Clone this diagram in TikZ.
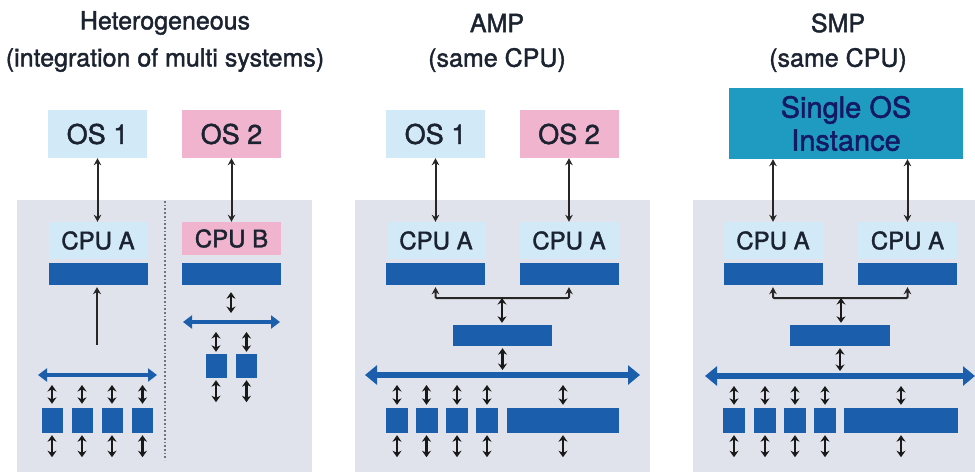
\documentclass[tikz,border=0pt]{standalone}
\usepackage{fontspec}
\setmainfont{TeX Gyre Heros}[FakeBold=1.6]
\usetikzlibrary{positioning,arrows.meta}

\definecolor{panelgrey}{HTML}{E0E3EB}
\definecolor{osblue}{HTML}{D2EAF8}
\definecolor{ospink}{HTML}{F0B4CE}
\definecolor{barblue}{HTML}{1A5EAC}
\definecolor{osteal}{HTML}{1F9BC2}
\definecolor{inkdark}{HTML}{1B2230}

\begin{document}
\begin{tikzpicture}[
    x=1pt, y=-1pt,
    title/.style={text=inkdark, font=\fontsize{25}{28}\selectfont},
    osbox/.style={%
      rectangle, fill=osblue, text=inkdark,
      minimum width=99pt, minimum height=48pt, inner sep=0pt,
      font=\fontsize{27}{30}\selectfont,
    },
    cpubox/.style={%
      rectangle, fill=osblue, text=inkdark,
      minimum width=99pt, minimum height=37pt, inner sep=0pt,
      font=\fontsize{24}{26}\selectfont,
    },
    bar/.style={rectangle, fill=barblue, minimum width=99pt, minimum height=22pt, inner sep=0pt},
    chip/.style={rectangle, fill=barblue, minimum width=21pt, minimum height=25pt, inner sep=0pt},
    link/.style={black!85, line width=2pt, {Stealth[length=7pt,width=7.5pt]}-{Stealth[length=7pt,width=7.5pt]}},
    io/.style={black!90, line width=2.6pt, {Stealth[length=6.5pt,width=9pt]}-{Stealth[length=6.5pt,width=9pt]}},
    bus/.style={barblue, line width=6.5pt, {Triangle[length=12pt,width=19pt]}-{Triangle[length=12pt,width=19pt]}},
    smallbus/.style={barblue, line width=4pt, {Triangle[length=9pt,width=13pt]}-{Triangle[length=9pt,width=13pt]}},
  ]
    \useasboundingbox (0,0) rectangle (975,472);

    % background panels
    \fill[panelgrey] (17,200) rectangle (312,472);
    \fill[panelgrey] (355,200) rectangle (650,472);
    \fill[panelgrey] (693,200) rectangle (975,472);
    \draw[black!55, dotted, line width=1.7pt] (165,201) -- (165,460);

    % headings
    \node [title] (hetT) at (165,23) {Heterogeneous};
    \node [title] (hetS) at (165,60) {(integration of multi systems)};
    \node [title] (ampT) at (497,23) {AMP};
    \node [title] (ampS) at (497,60) {(same CPU)};
    \node [title] (smpT) at (838,23) {SMP};
    \node [title] (smpS) at (838,60) {(same CPU)};

    % heterogeneous
    \node [osbox] (osH1) at (97.5,134) {OS 1};
    \node [osbox, fill=ospink] (osH2) at (231.5,134) {OS 2};
    \node [cpubox] (cpuH1) at (98,240.5) {CPU A};
    \node [cpubox, fill=ospink, minimum height=33pt] (cpuH2) at (231.5,238.5) {CPU B};
    \node [bar] (barH1) at (98,274) {};
    \node [bar] (barH2) at (231,274) {};
    \draw [link] (osH1.south) -- (osH1.south |- cpuH1.north);
    \draw [link] (osH2.south) -- (osH2.south |- cpuH2.north);

    \coordinate (upH) at (97,345);
    \draw [black!85, line width=2pt, -{Stealth[length=7pt,width=8pt]}, shorten >=2pt] (upH) -- (upH |- barH1.south);
    \coordinate (busHL) at (38,375);
    \coordinate (busHR) at (157,375);
    \draw [smallbus] (busHL) -- (busHR);
    \node [chip] (h1) at (52,420.5) {};
    \node [chip] (h2) at (82,420.5) {};
    \node [chip] (h3) at (112,420.5) {};
    \node [chip] (h4) at (142.5,420.5) {};
    \draw [io, shorten <=4pt, shorten >=10pt] (h1.north) -- (h1.north |- busHL);
    \draw [io, shorten <=4pt, shorten >=10pt] (h2.north) -- (h2.north |- busHL);
    \draw [io, shorten <=4pt, shorten >=10pt] (h3.north) -- (h3.north |- busHL);
    \draw [io, shorten <=4pt, shorten >=10pt] (h4.north) -- (h4.north |- busHL);
    \draw [io, shorten <=2pt] (h1.south) -- ++(0,24);
    \draw [io, shorten <=2pt] (h2.south) -- ++(0,24);
    \draw [io, shorten <=2pt] (h3.south) -- ++(0,24);
    \draw [io, shorten <=2pt] (h4.south) -- ++(0,24);

    \coordinate (busBL) at (183,322);
    \coordinate (busBR) at (280,322);
    \draw [smallbus] (busBL) -- (busBR);
    \draw [io, shorten <=7pt, shorten >=9pt] (barH2.south) -- (barH2.south |- busBL);
    \node [chip, minimum height=24pt] (b1) at (216,366) {};
    \node [chip, minimum height=24pt] (b2) at (246.5,366) {};
    \draw [io, shorten <=2pt, shorten >=10pt] (b1.north) -- (b1.north |- busBL);
    \draw [io, shorten <=2pt, shorten >=10pt] (b2.north) -- (b2.north |- busBL);
    \draw [io, shorten <=2pt] (b1.south) -- ++(0,24);
    \draw [io, shorten <=2pt] (b2.south) -- ++(0,24);

    % AMP
    \node [osbox] (osA1) at (435.5,134) {OS 1};
    \node [osbox, fill=ospink] (osA2) at (569,134) {OS 2};
    \node [cpubox] (cpuA1) at (436,240.5) {CPU A};
    \node [cpubox] (cpuA2) at (569,240.5) {CPU A};
    \node [bar] (barA1) at (435.5,274) {};
    \node [bar] (barA2) at (569,274) {};
    \draw [link] (osA1.south) -- (osA1.south |- cpuA1.north);
    \draw [link] (osA2.south) -- (osA2.south |- cpuA2.north);

    \coordinate (jA) at (502,298);
    \draw [link, shorten <=2pt, shorten >=2pt, rounded corners=1pt]
      (barA1.south) -- (barA1.south |- jA) -- (barA2.south |- jA) -- (barA2.south);
    \node [bar, minimum height=21pt] (midA) at (502.5,335.5) {};
    \draw [io, shorten >=2pt] (jA) -- (jA |- midA.north);
    \coordinate (busAL) at (365,375);
    \coordinate (busAR) at (640,375);
    \draw [io, shorten <=2pt, shorten >=5pt] (midA.south) -- (midA.south |- busAL);
    \draw [bus] (busAL) -- (busAR);
    \node [chip, minimum width=22pt] (a1) at (397,420.5) {};
    \node [chip, minimum width=22pt] (a2) at (426.5,420.5) {};
    \node [chip, minimum width=22pt] (a3) at (457,420.5) {};
    \node [chip, minimum width=22pt] (a4) at (487,420.5) {};
    \node [chip, minimum width=112pt] (a5) at (563,420.5) {};
    \draw [io, shorten <=3pt, shorten >=10pt] (a1.north) -- (a1.north |- busAL);
    \draw [io, shorten <=3pt, shorten >=10pt] (a2.north) -- (a2.north |- busAL);
    \draw [io, shorten <=3pt, shorten >=10pt] (a3.north) -- (a3.north |- busAL);
    \draw [io, shorten <=3pt, shorten >=10pt] (a4.north) -- (a4.north |- busAL);
    \draw [io, shorten <=3pt, shorten >=10pt] (a5.north) -- (a5.north |- busAL);
    \draw [io, shorten <=2pt] (a1.south) -- ++(0,24);
    \draw [io, shorten <=2pt] (a2.south) -- ++(0,24);
    \draw [io, shorten <=2pt] (a3.south) -- ++(0,24);
    \draw [io, shorten <=2pt] (a4.south) -- ++(0,24);
    \draw [io, shorten <=2pt] (a5.south) -- ++(0,24);

    % SMP
    \node [rectangle, fill=osteal, text=inkdark!75!blue, align=center, inner sep=0pt,
      minimum width=234pt, minimum height=71pt,
      font=\fontsize{29}{33}\selectfont] (osS) at (846,123.5) {Single OS\\Instance};
    \node [cpubox] (cpuS1) at (773,240.5) {CPU A};
    \node [cpubox] (cpuS2) at (907.5,240.5) {CPU A};
    \node [bar] (barS1) at (773,274) {};
    \node [bar] (barS2) at (907.5,274) {};
    \draw [link] (osS.south -| cpuS1) -- (cpuS1.north);
    \draw [link] (osS.south -| cpuS2) -- (cpuS2.north);

    \coordinate (jS) at (841,298);
    \draw [link, shorten <=2pt, shorten >=2pt, rounded corners=1pt]
      (barS1.south) -- (barS1.south |- jS) -- (barS2.south |- jS) -- (barS2.south);
    \node [bar, minimum width=100pt, minimum height=21pt] (midS) at (840,335.5) {};
    \draw [io, shorten >=2pt] (jS) -- (jS |- midS.north);
    \coordinate (busSL) at (705,376);
    \coordinate (busSR) at (975,376);
    \draw [io, shorten <=2pt, shorten >=5pt] (midS.south) -- (midS.south |- busSL);
    \draw [bus] (busSL) -- (busSR);
    \node [chip, minimum width=22pt] (s1) at (734,420.5) {};
    \node [chip, minimum width=22pt] (s2) at (765,420.5) {};
    \node [chip, minimum width=22pt] (s3) at (795,420.5) {};
    \node [chip, minimum width=22pt] (s4) at (825,420.5) {};
    \node [chip, minimum width=114pt] (s5) at (901,420.5) {};
    \draw [io, shorten <=3pt, shorten >=10pt] (s1.north) -- (s1.north |- busSL);
    \draw [io, shorten <=3pt, shorten >=10pt] (s2.north) -- (s2.north |- busSL);
    \draw [io, shorten <=3pt, shorten >=10pt] (s3.north) -- (s3.north |- busSL);
    \draw [io, shorten <=3pt, shorten >=10pt] (s4.north) -- (s4.north |- busSL);
    \draw [io, shorten <=3pt, shorten >=10pt] (s5.north) -- (s5.north |- busSL);
    \draw [io, shorten <=2pt] (s1.south) -- ++(0,24);
    \draw [io, shorten <=2pt] (s2.south) -- ++(0,24);
    \draw [io, shorten <=2pt] (s3.south) -- ++(0,24);
    \draw [io, shorten <=2pt] (s4.south) -- ++(0,24);
    \draw [io, shorten <=2pt] (s5.south) -- ++(0,24);
\end{tikzpicture}
\end{document}
